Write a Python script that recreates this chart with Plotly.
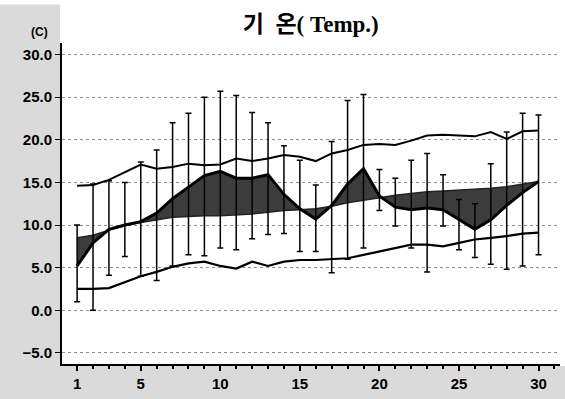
import numpy as np
import plotly.graph_objects as go

days = list(range(1, 31))
x_tick_vals = [1, 5, 10, 15, 20, 25, 30]
y_tick_vals = [-5, 0, 5, 10, 15, 20, 25, 30]

normal_max = [14.6, 14.7, 15.3, 16.2, 17.1, 16.6, 16.8, 17.2, 17.0, 17.1,
              17.8, 17.5, 17.8, 18.2, 18.0, 17.5, 18.4, 18.8, 19.4, 19.5,
              19.4, 19.9, 20.5, 20.6, 20.5, 20.4, 20.9, 20.1, 21.0, 21.1]
normal_min = [2.5, 2.5, 2.6, 3.3, 4.0, 4.5, 5.1, 5.5, 5.7, 5.2,
              4.9, 5.7, 5.2, 5.7, 5.9, 5.9, 6.0, 6.1, 6.5, 6.9,
              7.3, 7.7, 7.7, 7.5, 7.9, 8.3, 8.5, 8.7, 9.0, 9.1]
normal_mean = [8.5, 8.8, 9.4, 9.9, 10.3, 10.6, 10.9, 11.0, 11.1, 11.1,
               11.2, 11.3, 11.5, 11.7, 11.8, 11.9, 12.2, 12.6, 12.9, 13.2,
               13.5, 13.7, 13.9, 14.0, 14.1, 14.2, 14.3, 14.5, 14.8, 15.1]
actual_mean = [5.2, 7.9, 9.5, 10.0, 10.4, 11.4, 13.1, 14.4, 15.8, 16.3,
               15.5, 15.5, 15.9, 13.6, 11.9, 10.7, 12.3, 14.8, 16.6, 13.4,
               12.1, 11.8, 12.0, 11.8, 10.6, 9.5, 10.6, 12.3, 13.8, 15.1]
actual_max = [10.0, 14.8, 15.2, 15.0, 17.4, 18.8, 22.0, 23.1, 25.0, 25.7,
              25.2, 23.2, 22.0, 19.3, 17.6, 14.7, 19.8, 24.6, 25.3, 16.5,
              15.5, 17.6, 18.4, 15.9, 13.0, 12.5, 17.2, 20.9, 23.1, 22.9]
actual_min = [1.0, 0.0, 4.1, 6.3, 4.0, 3.5, 5.2, 6.5, 6.4, 7.3,
              7.1, 8.4, 8.9, 9.0, 6.9, 6.9, 4.4, 6.0, 7.3, 11.7,
              9.9, 7.3, 4.5, 9.9, 7.1, 6.2, 5.4, 4.8, 5.2, 6.5]

am = np.array(actual_mean)
err_plus = (np.array(actual_max) - am).tolist()
err_minus = (am - np.array(actual_min)).tolist()

fig = go.Figure()
fig.add_trace(go.Scatter(x=days, y=normal_mean, mode="lines",
                         line=dict(color="#222222", width=1.5), showlegend=False))
fig.add_trace(go.Scatter(x=days, y=actual_mean, mode="lines", fill="tonexty",
                         fillcolor="#3c3c3c",
                         line=dict(color="black", width=3), showlegend=False))
fig.add_trace(go.Scatter(x=days, y=normal_max, mode="lines",
                         line=dict(color="black", width=2), showlegend=False))
fig.add_trace(go.Scatter(x=days, y=normal_min, mode="lines",
                         line=dict(color="black", width=2.2), showlegend=False))
fig.add_trace(go.Scatter(x=days, y=actual_mean, mode="markers",
                         marker=dict(size=1, color="rgba(0,0,0,0)"),
                         error_y=dict(type="data", symmetric=False,
                                      array=err_plus, arrayminus=err_minus,
                                      color="black", thickness=1.5, width=3),
                         showlegend=False))

# scanned grey margins
fig.add_shape(type="rect", xref="paper", yref="paper",
              x0=-0.13, x1=-0.004, y0=-0.12, y1=1.12,
              fillcolor="#dadada", line=dict(width=0), layer="below")
fig.add_shape(type="rect", xref="paper", yref="paper",
              x0=-0.13, x1=1.02, y0=-0.12, y1=-0.006,
              fillcolor="#dadada", line=dict(width=0), layer="below")

tick_font = dict(family="Liberation Sans, Arial, sans-serif", size=15,
                 color="black", weight="bold")

fig.update_layout(
    width=565, height=399,
    margin=dict(l=62, r=5, t=43, b=35),
    paper_bgcolor="white", plot_bgcolor="white",
    title=dict(text="기&nbsp;&nbsp;온( Temp.)", x=0.55, xanchor="center",
               y=1 - 24 / 399, yanchor="middle", yref="container",
               font=dict(family="Liberation Serif, Noto Sans CJK KR, serif",
                         size=23, color="black", weight="bold")),
    xaxis=dict(range=[0.05, 31.35], showline=True, linecolor="black",
               linewidth=2, ticks="outside", ticklen=5, tickwidth=1.5,
               tickcolor="black", tickvals=x_tick_vals,
               ticktext=[str(v) for v in x_tick_vals],
               tickfont=tick_font, showgrid=False, zeroline=False,
               minor=dict(tickmode="linear", tick0=1, dtick=1,
                          ticks="outside", ticklen=3, tickcolor="black")),
    yaxis=dict(range=[-6.3, 31.35], showline=True, linecolor="black",
               linewidth=2, ticks="outside", ticklen=5, tickcolor="black",
               tickvals=y_tick_vals, tickformat=".1f", tickfont=tick_font,
               ticklabelstandoff=0,
               showgrid=True, gridcolor="#8c8c8c", griddash="dot",
               gridwidth=1, zeroline=False),
    annotations=[dict(text="(C)", xref="paper", yref="paper",
                      x=-0.046, y=1.034, xanchor="center", yanchor="middle",
                      showarrow=False,
                      font=dict(family="Liberation Sans, Arial, sans-serif",
                                size=12, color="black", weight="bold"))],
)

fig.write_html("out.html", config={"displayModeBar": False},
               post_script="document.body.style.margin='0';"
                           "document.body.style.padding='0';")
